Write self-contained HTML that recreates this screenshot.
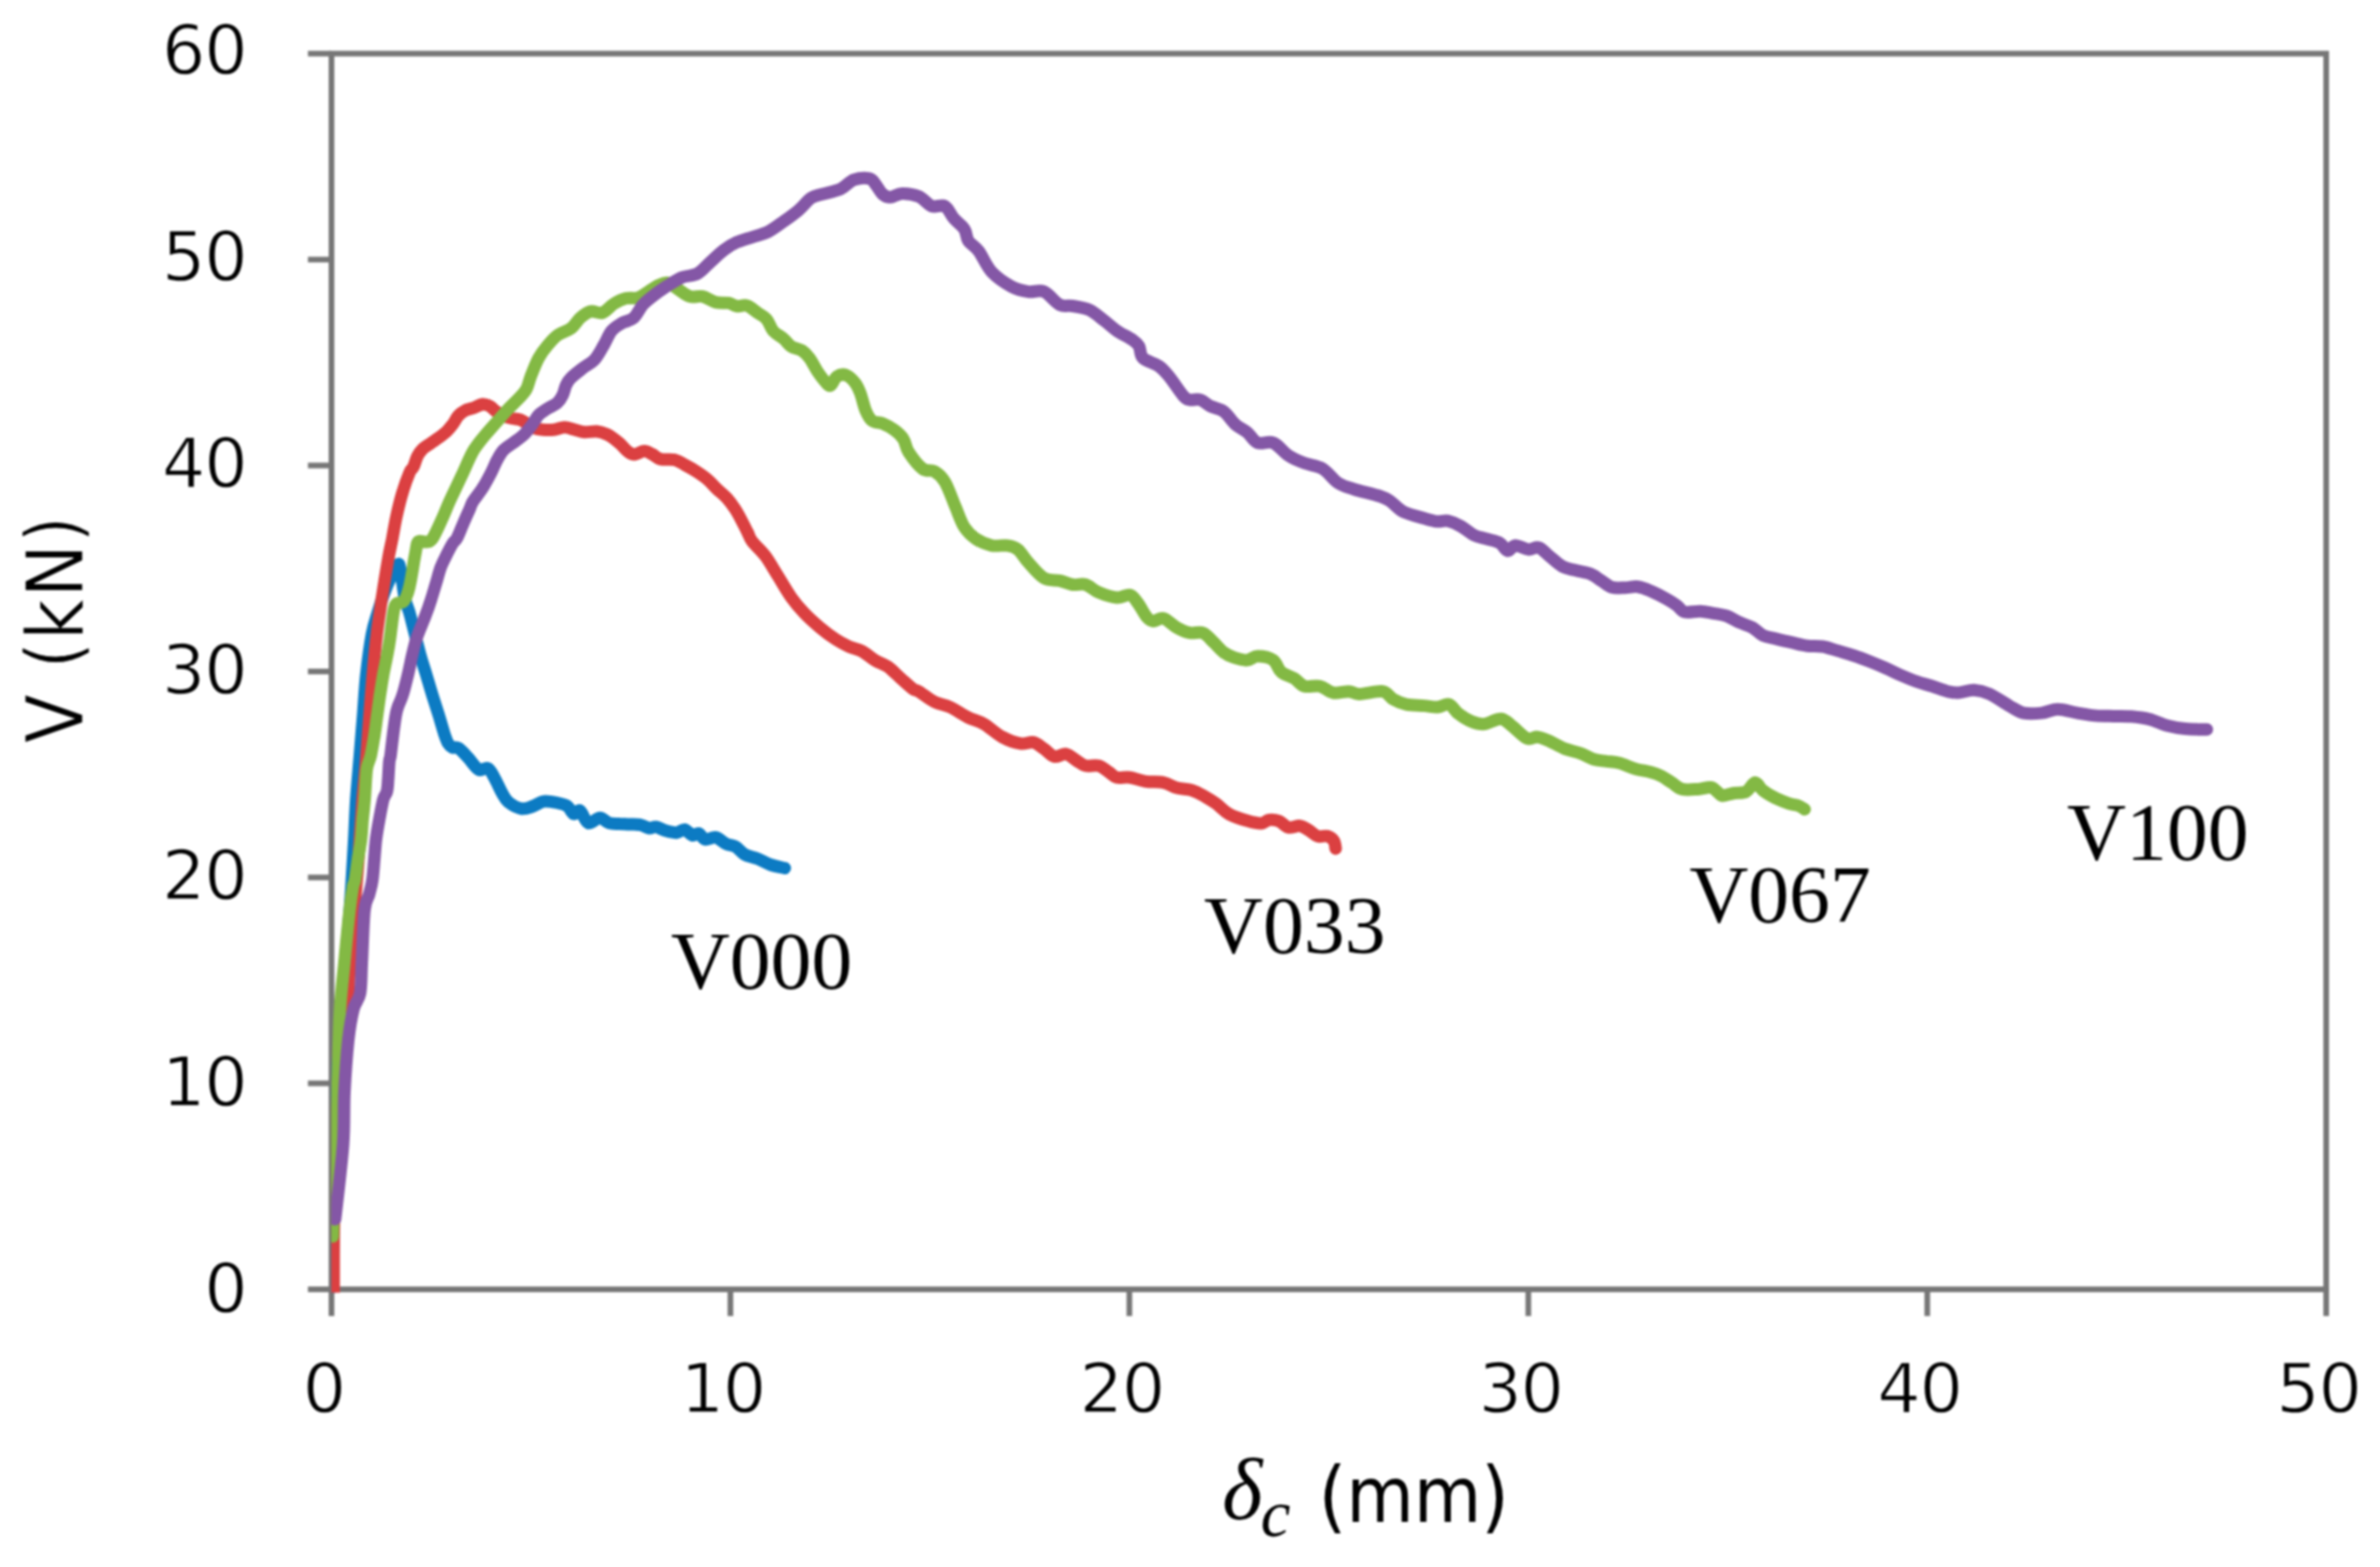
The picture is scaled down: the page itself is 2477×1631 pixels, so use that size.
<!DOCTYPE html>
<html lang="en">
<head>
<meta charset="utf-8">
<title>V versus delta_c chart</title>
<style>
html,body{margin:0;padding:0;background:#fff;}
#chart{width:2477px;height:1631px;overflow:hidden;position:relative;background:#fff;}
svg{position:absolute;left:0;top:0;display:block;filter:blur(0.8px);}
.tk{font-family:"DejaVu Sans","Liberation Sans",sans-serif;font-size:71.3px;letter-spacing:-1.4px;fill:#000;stroke:#fff;stroke-width:1.3px;}
.ttl{font-family:"DejaVu Sans Condensed","DejaVu Sans","Liberation Sans",sans-serif;font-size:82.7px;fill:#000;}
.ser{font-family:"Liberation Serif","DejaVu Serif",serif;font-size:85px;fill:#000;}
.mth{font-family:"Liberation Serif","DejaVu Serif",serif;font-style:italic;fill:#000;}
.ln{fill:none;stroke-linecap:round;stroke-linejoin:round;stroke-width:13.0;}
</style>
</head>
<body>
<div id="chart">
<svg width="2477" height="1631" viewBox="0 0 2477 1631" role="img" aria-label="Shear force V (kN) versus displacement for specimens V000, V033, V067 and V100">
<defs><clipPath id="plot"><rect x="344.7" y="40" width="2090" height="1305.4"/></clipPath></defs>
<rect x="0" y="0" width="2477" height="1631" fill="#ffffff"/>
<g stroke="#777777" stroke-width="5.9" fill="none" stroke-linecap="butt">
<rect x="345.0" y="55.8" width="2076.0" height="1286.2"/>
<line x1="320.5" y1="1342.0" x2="345.0" y2="1342.0"/>
<line x1="320.5" y1="1127.6" x2="345.0" y2="1127.6"/>
<line x1="320.5" y1="913.3" x2="345.0" y2="913.3"/>
<line x1="320.5" y1="698.9" x2="345.0" y2="698.9"/>
<line x1="320.5" y1="484.5" x2="345.0" y2="484.5"/>
<line x1="320.5" y1="270.2" x2="345.0" y2="270.2"/>
<line x1="320.5" y1="55.8" x2="345.0" y2="55.8"/>
<line x1="345.0" y1="1342.0" x2="345.0" y2="1369.8"/>
<line x1="760.2" y1="1342.0" x2="760.2" y2="1369.8"/>
<line x1="1175.4" y1="1342.0" x2="1175.4" y2="1369.8"/>
<line x1="1590.6" y1="1342.0" x2="1590.6" y2="1369.8"/>
<line x1="2005.8" y1="1342.0" x2="2005.8" y2="1369.8"/>
<line x1="2421.0" y1="1342.0" x2="2421.0" y2="1369.8"/>
</g>
<g clip-path="url(#plot)">
<path class="ln" stroke="#0c7bc3" d="M345.0 1341.0C345.2 1327.5 345.6 1293.5 346.5 1260.0C347.4 1226.5 348.9 1176.7 350.5 1140.0C352.1 1103.3 353.9 1070.0 356.0 1040.0C358.1 1010.0 361.3 980.6 363.0 960.0C364.7 939.4 365.1 930.7 366.1 916.4C367.0 902.1 367.8 888.3 368.6 874.2C369.4 860.2 369.7 846.8 370.7 832.1C371.7 817.5 373.3 801.0 374.5 786.4C375.7 771.7 376.7 758.3 377.9 744.2C379.0 730.2 379.7 716.2 381.2 702.1C382.8 688.1 385.1 670.9 387.1 660.0C389.2 649.1 391.3 644.0 393.4 636.9C395.5 629.8 397.7 623.3 399.8 617.5C401.9 611.7 404.0 606.7 406.1 602.3C408.2 598.0 410.9 593.9 412.4 591.4C413.9 588.9 414.5 585.9 415.3 587.2C416.2 588.4 416.9 594.9 417.6 599.0C418.3 603.0 418.9 607.4 419.6 611.6C420.2 615.8 420.6 620.0 421.7 624.2C422.7 628.5 424.6 632.7 425.9 636.9C427.1 641.1 427.4 642.2 429.2 649.5C431.1 656.9 434.9 672.3 437.2 681.1C439.6 689.8 441.5 695.1 443.6 702.1C445.7 709.1 447.7 716.2 449.9 723.2C452.1 730.2 454.4 737.2 456.6 744.2C458.8 751.3 461.3 760.4 462.9 765.3C464.6 770.2 465.1 771.6 466.3 773.7C467.6 775.8 468.7 777.1 470.5 777.9C472.4 778.8 474.5 777.0 477.3 778.8C480.1 780.6 483.8 785.1 487.3 788.8C490.8 792.6 494.8 799.2 498.2 801.0C501.5 802.9 504.9 798.3 507.6 799.7C510.4 801.0 511.9 804.9 514.4 809.2C516.9 813.5 520.1 821.2 522.6 825.5C525.0 829.8 526.0 832.2 529.3 835.0C532.7 837.7 538.6 841.1 542.9 841.7C547.2 842.4 551.3 840.3 555.1 839.0C559.0 837.8 561.9 834.7 566.0 834.1C570.0 833.6 575.5 834.7 579.5 835.5C583.6 836.3 587.4 837.1 590.4 839.0C593.3 841.0 594.9 846.3 597.1 847.2C599.4 848.0 601.4 842.3 603.9 843.9C606.4 845.5 608.7 855.4 612.1 856.6C615.5 857.9 620.7 851.2 624.3 851.2C627.9 851.2 630.4 855.6 633.8 856.6C637.2 857.7 641.0 857.2 644.6 857.5C648.2 857.7 651.8 857.8 655.5 858.0C659.1 858.2 662.9 857.9 666.3 858.5C669.7 859.2 673.1 861.7 675.8 862.1C678.5 862.4 679.6 860.3 682.6 860.7C685.5 861.2 689.8 863.8 693.4 864.8C697.0 865.8 701.1 866.9 704.3 866.7C707.4 866.5 709.7 863.0 712.4 863.4C715.1 863.9 718.1 868.7 720.6 869.4C723.0 870.1 725.1 866.8 727.3 867.5C729.6 868.2 731.2 873.1 734.1 873.7C737.1 874.4 741.3 870.8 745.0 871.6C748.6 872.3 752.4 876.8 755.8 878.3C759.2 879.9 762.1 879.3 765.3 881.1C768.5 882.9 771.0 887.1 774.8 889.2C778.6 891.3 783.8 892.0 788.4 893.8C792.9 895.6 797.2 898.4 801.9 900.0C806.7 901.7 814.3 903.0 816.8 903.6"/>
<path class="ln" stroke="#db4041" d="M347.3 1346.0C347.3 1336.7 347.2 1310.2 347.4 1290.0C347.6 1269.8 348.0 1245.8 348.4 1225.0C348.8 1204.2 349.1 1184.2 350.0 1165.0C350.9 1145.8 352.2 1126.2 353.5 1110.0C354.8 1093.8 356.6 1079.5 358.0 1068.0C359.4 1056.5 360.9 1052.5 362.0 1041.0C363.1 1029.5 362.8 1021.2 364.5 999.0C366.2 976.8 370.3 928.7 372.0 907.9C373.6 887.2 373.6 886.9 374.5 874.2C375.4 861.6 376.4 845.3 377.4 832.1C378.5 818.9 380.0 804.1 380.8 795.1C381.6 786.0 381.4 786.4 382.1 777.9C382.7 769.5 383.6 756.9 384.6 744.2C385.6 731.6 386.7 716.2 388.0 702.1C389.2 688.1 390.6 673.0 392.2 660.0C393.7 647.0 395.3 637.2 397.2 624.2C399.2 611.3 402.1 592.8 404.0 582.1C405.8 571.4 407.0 567.5 408.4 560.1C409.8 552.7 410.9 545.2 412.6 537.6C414.3 529.9 416.2 521.6 418.5 514.0C420.7 506.5 424.1 496.9 426.1 492.2C428.0 487.5 428.9 488.9 430.3 486.0C431.7 483.1 432.9 477.9 434.5 474.8C436.2 471.6 437.7 469.4 440.0 467.2C442.3 464.9 445.6 463.2 448.4 461.3C451.2 459.3 454.1 457.5 456.9 455.4C459.7 453.3 462.8 451.0 465.3 448.6C467.7 446.3 469.6 443.7 471.6 441.1C473.6 438.4 475.0 435.0 477.1 432.6C479.2 430.3 481.6 428.5 484.2 427.2C486.8 425.8 489.7 425.7 492.7 424.6C495.7 423.6 499.5 421.0 502.3 420.7C505.2 420.5 507.7 421.7 509.9 422.9C512.2 424.0 513.4 426.2 515.8 427.9C518.2 429.6 521.4 431.7 524.2 433.0C527.1 434.2 529.9 434.9 532.7 435.5C535.5 436.1 538.6 435.9 541.1 436.8C543.6 437.6 545.3 439.1 547.8 440.5C550.4 442.0 553.5 444.5 556.3 445.6C559.1 446.7 561.3 447.0 564.7 447.3C568.1 447.6 572.7 447.7 576.5 447.3C580.3 446.9 583.8 444.8 587.4 444.8C591.1 444.8 594.9 446.4 598.4 447.3C601.9 448.1 604.7 449.5 608.5 449.8C612.3 450.1 617.2 448.6 621.1 449.0C625.1 449.4 628.9 450.9 632.1 452.3C635.2 453.7 637.8 455.8 640.0 457.4C642.2 459.0 643.1 459.8 645.4 461.9C647.7 464.1 651.3 468.5 653.8 470.3C656.3 472.2 657.7 473.0 660.5 472.9C663.3 472.7 667.5 469.5 670.6 469.5C673.7 469.5 676.2 471.5 679.0 472.9C681.8 474.3 683.5 476.9 687.4 477.9C691.3 478.9 698.3 477.8 702.5 478.7C706.7 479.7 709.0 481.8 712.6 483.8C716.2 485.7 720.4 488.0 724.4 490.5C728.3 493.0 732.5 495.8 736.1 498.9C739.8 502.0 742.9 505.8 746.2 509.0C749.6 512.2 753.2 514.9 756.3 518.2C759.4 521.6 762.2 525.4 764.7 529.2C767.2 532.9 769.2 536.7 771.4 540.9C773.7 545.1 776.2 550.6 778.2 554.4C780.1 558.2 779.9 559.7 782.9 563.7C786.0 567.8 792.0 572.6 796.5 578.7C801.0 584.8 805.5 593.1 810.1 600.3C814.6 607.6 819.1 615.7 823.6 622.0C828.1 628.4 832.2 633.1 837.2 638.3C842.1 643.5 848.0 648.7 853.4 653.2C858.9 657.8 864.7 662.2 869.7 665.4C874.7 668.7 878.8 670.7 883.3 672.8C887.8 674.8 892.3 675.3 896.8 677.6C901.4 680.0 905.9 684.4 910.4 687.1C914.9 689.9 919.4 690.8 924.0 693.9C928.5 697.1 933.2 702.3 937.5 706.1C941.9 710.0 946.9 714.7 950.0 717.0C953.1 719.2 952.5 717.4 956.3 719.7C960.0 721.9 967.1 727.8 972.5 730.5C978.0 733.2 982.9 733.2 988.8 736.0C994.7 738.7 1001.9 743.9 1007.8 746.8C1013.7 749.7 1018.2 750.2 1024.1 753.6C1030.0 757.0 1036.7 763.8 1043.1 767.1C1049.4 770.5 1056.6 773.0 1062.0 773.9C1067.5 774.8 1071.5 771.7 1075.6 772.6C1079.7 773.5 1082.8 776.9 1086.5 779.4C1090.1 781.8 1093.5 786.6 1097.3 787.5C1101.1 788.4 1105.7 784.1 1109.5 784.8C1113.4 785.5 1117.0 789.5 1120.4 791.6C1123.7 793.6 1126.0 796.1 1129.9 797.0C1133.7 797.9 1139.3 795.9 1143.4 797.0C1147.5 798.1 1151.1 801.7 1154.3 803.8C1157.4 805.8 1158.8 808.3 1162.4 809.2C1166.0 810.1 1171.0 808.5 1176.0 809.2C1180.9 809.9 1186.4 812.4 1192.2 813.3C1198.1 814.2 1205.8 813.5 1211.2 814.6C1216.6 815.7 1219.8 818.7 1224.8 820.0C1229.7 821.4 1236.1 821.2 1241.0 822.7C1246.0 824.3 1250.5 827.3 1254.6 829.5C1258.7 831.8 1261.4 833.4 1265.5 836.3C1269.5 839.2 1273.4 844.1 1279.0 847.2C1284.6 850.2 1293.4 853.0 1299.0 854.6C1304.5 856.2 1308.8 857.1 1312.5 857.0C1316.1 856.8 1317.8 853.8 1320.9 853.4C1324.0 853.0 1327.6 853.3 1331.0 854.6C1334.4 855.9 1337.4 860.3 1341.1 861.2C1344.7 862.0 1349.4 859.1 1352.9 859.6C1356.4 860.1 1359.1 862.4 1362.2 864.2C1365.2 866.0 1368.2 869.4 1371.4 870.4C1374.7 871.4 1378.7 869.5 1381.5 870.3C1384.3 871.1 1386.8 873.1 1388.3 875.2C1389.7 877.4 1389.8 881.9 1390.1 883.2"/>
<path class="ln" stroke="#83b944" d="M346.3 1287.0C346.5 1280.0 346.7 1270.0 347.5 1245.0C348.3 1220.0 350.1 1168.5 351.2 1137.0C352.2 1105.4 352.4 1078.2 353.6 1055.6C354.8 1033.0 356.8 1019.4 358.5 1001.4C360.2 983.3 362.4 960.2 363.9 947.1C365.4 934.0 366.5 927.8 367.4 922.7C368.3 917.6 368.6 920.9 369.4 916.4C370.3 911.8 371.3 902.3 372.4 895.3C373.4 888.3 374.9 881.3 375.7 874.2C376.6 867.2 376.8 860.2 377.4 853.2C378.1 846.2 379.0 839.1 379.5 832.1C380.1 825.1 380.4 816.7 380.8 811.1C381.2 805.4 381.2 802.5 382.1 798.4C382.9 794.3 384.6 791.9 385.9 786.4C387.1 780.8 388.5 772.3 389.7 765.3C390.8 758.3 391.6 751.3 392.6 744.2C393.6 737.2 394.5 730.2 395.5 723.2C396.6 716.2 397.7 709.1 398.9 702.1C400.2 695.1 402.0 687.2 403.1 681.1C404.3 674.9 405.1 670.3 405.8 665.1C406.6 659.8 407.1 654.5 407.8 649.5C408.4 644.5 409.1 638.7 409.9 635.2C410.6 631.7 410.9 629.9 412.4 628.5C413.9 627.1 417.4 628.0 419.1 626.8C420.9 625.5 421.8 623.4 422.9 620.9C424.1 618.3 425.0 615.3 425.9 611.6C426.8 608.0 427.6 603.6 428.4 599.0C429.2 594.3 430.2 588.3 430.9 583.8C431.7 579.3 432.5 575.1 433.0 572.0C433.6 568.9 433.7 566.7 434.3 565.3C434.9 563.8 435.1 563.4 436.8 563.2C438.5 563.0 442.1 564.5 444.4 564.0C446.7 563.5 447.7 564.2 450.4 560.1C453.1 556.0 457.6 545.6 460.5 539.2C463.4 532.9 464.5 529.3 467.8 522.0C471.1 514.7 476.4 504.0 480.4 495.3C484.5 486.6 488.3 476.9 492.2 470.0C496.2 463.2 500.1 458.9 504.0 454.0C508.0 449.1 511.9 445.0 515.8 440.5C519.8 436.1 523.7 431.3 527.6 427.1C531.5 422.9 536.0 418.9 539.4 415.3C542.8 411.6 545.7 409.1 547.8 405.2C550.0 401.3 550.3 397.3 552.4 391.9C554.5 386.5 557.6 378.3 560.5 372.9C563.5 367.5 566.6 363.4 570.0 359.4C573.4 355.3 576.8 351.4 580.9 348.5C584.9 345.6 590.6 344.7 594.4 341.7C598.3 338.8 600.5 333.8 603.9 330.9C607.3 327.9 610.9 325.0 614.8 324.1C618.6 323.2 622.9 326.8 627.0 325.5C631.0 324.1 635.1 318.4 639.2 316.0C643.3 313.5 647.3 311.5 651.4 310.5C655.5 309.5 659.8 311.1 663.6 310.0C667.4 308.9 670.8 305.9 674.4 303.8C678.1 301.6 681.9 298.6 685.3 297.0C688.7 295.4 691.4 293.6 694.8 294.3C698.2 294.9 701.8 298.6 705.6 301.0C709.5 303.4 713.5 307.4 717.8 308.6C722.1 309.9 726.9 307.6 731.4 308.6C735.9 309.6 740.4 313.5 745.0 314.6C749.5 315.7 754.9 314.7 758.5 315.4C762.1 316.1 763.5 318.2 766.7 318.7C769.8 319.1 773.9 317.0 777.5 318.1C781.1 319.3 785.0 323.1 788.4 325.5C791.7 327.8 795.1 329.1 797.8 332.2C800.6 335.4 801.7 341.0 804.6 344.4C807.6 347.8 812.3 349.9 815.5 352.6C818.6 355.3 820.4 358.7 823.6 360.7C826.8 362.7 831.3 362.7 834.5 364.8C837.6 366.8 839.9 369.3 842.6 372.9C845.3 376.5 848.0 382.4 850.7 386.5C853.4 390.5 856.6 394.8 858.9 397.3C861.1 399.8 862.3 402.3 864.3 401.4C866.3 400.5 868.4 393.7 871.1 391.9C873.8 390.1 877.4 389.4 880.6 390.5C883.7 391.7 887.6 395.5 890.1 398.7C892.5 401.8 893.7 404.8 895.5 409.5C897.3 414.3 898.9 422.4 900.9 427.2C902.9 431.9 904.8 435.7 907.7 438.0C910.6 440.3 914.7 439.1 918.5 440.7C922.4 442.3 927.1 444.8 930.7 447.5C934.4 450.2 937.8 453.1 940.2 457.0C942.7 460.8 942.3 465.4 945.7 470.6C949.0 475.7 955.9 484.6 960.3 488.0C964.8 491.4 968.7 488.5 972.5 490.7C976.4 493.0 979.8 495.5 983.4 501.6C987.0 507.6 990.9 519.2 994.2 527.1C997.6 535.0 1000.1 543.2 1003.7 548.8C1007.4 554.5 1011.2 557.9 1015.9 561.0C1020.7 564.2 1026.8 566.7 1032.2 567.8C1037.6 568.9 1044.0 567.1 1048.5 567.8C1053.0 568.5 1055.7 568.9 1059.3 571.9C1063.0 574.8 1065.7 580.5 1070.2 585.4C1074.7 590.4 1081.0 598.5 1086.5 601.7C1091.9 604.9 1097.8 603.3 1102.7 604.4C1107.7 605.5 1111.8 607.8 1116.3 608.5C1120.8 609.2 1125.3 607.1 1129.9 608.5C1134.4 609.8 1138.0 614.4 1143.4 616.6C1148.8 618.9 1157.0 621.6 1162.4 622.0C1167.8 622.5 1172.3 618.4 1176.0 619.3C1179.6 620.2 1181.2 623.6 1184.1 627.5C1187.0 631.3 1190.9 639.2 1193.6 642.4C1196.3 645.6 1197.4 646.2 1200.4 646.5C1203.3 646.7 1207.1 642.6 1211.2 643.7C1215.3 644.9 1220.3 650.8 1224.8 653.2C1229.3 655.7 1233.8 657.8 1238.3 658.7C1242.9 659.6 1247.8 657.1 1251.9 658.7C1256.0 660.2 1259.1 664.8 1262.7 668.2C1266.4 671.5 1270.0 676.3 1273.6 679.0C1277.2 681.7 1280.4 683.1 1284.4 684.4C1288.5 685.8 1293.9 687.4 1298.0 687.1C1302.1 686.9 1304.3 683.1 1308.9 683.1C1313.4 683.1 1321.1 684.4 1325.1 687.1C1329.2 689.9 1329.6 696.2 1333.3 699.3C1336.9 702.5 1342.8 703.6 1346.8 706.1C1350.9 708.6 1353.2 712.9 1357.7 714.3C1362.2 715.6 1369.0 713.1 1373.9 714.3C1378.9 715.4 1382.5 720.1 1387.5 721.0C1392.5 721.9 1399.3 719.5 1403.8 719.7C1408.3 719.9 1408.8 722.4 1414.6 722.4C1420.5 722.4 1433.2 718.8 1439.0 719.7C1444.9 720.6 1445.8 725.6 1449.9 727.8C1454.0 730.1 1458.0 732.1 1463.4 733.2C1468.9 734.4 1477.0 734.1 1482.4 734.6C1487.9 735.1 1491.7 736.2 1496.0 736.0C1500.3 735.7 1504.6 732.1 1508.2 733.2C1511.8 734.4 1513.8 739.8 1517.7 742.7C1521.5 745.7 1526.7 749.1 1531.3 750.9C1535.8 752.7 1539.7 754.0 1544.8 753.6C1550.0 753.1 1557.3 747.7 1562.2 748.2C1567.1 748.6 1569.9 752.9 1574.4 756.3C1578.9 759.7 1585.0 766.7 1589.3 768.5C1593.6 770.3 1596.3 766.7 1600.2 767.1C1604.0 767.6 1607.6 769.2 1612.4 771.2C1617.1 773.3 1623.2 777.2 1628.7 779.4C1634.1 781.5 1640.0 782.4 1644.9 784.2C1649.9 786.0 1654.0 788.8 1658.5 790.2C1663.0 791.6 1667.5 791.7 1672.0 792.4C1676.6 793.0 1680.6 793.0 1685.6 794.3C1690.6 795.6 1696.5 798.7 1701.9 800.2C1707.3 801.8 1713.6 802.5 1718.2 803.8C1722.7 805.0 1725.4 806.0 1729.0 807.8C1732.6 809.6 1736.2 812.4 1739.9 814.6C1743.5 816.9 1746.2 820.3 1750.7 821.4C1755.2 822.5 1762.0 821.7 1767.0 821.4C1771.9 821.1 1777.1 819.0 1780.5 819.5C1783.9 819.9 1785.3 822.7 1787.3 824.1C1789.3 825.5 1789.8 827.9 1792.7 828.2C1795.7 828.4 1800.9 826.1 1804.9 825.5C1809.0 824.8 1813.5 825.9 1817.1 824.1C1820.8 822.3 1823.7 814.8 1826.6 814.6C1829.6 814.4 1831.2 820.0 1834.8 822.7C1838.4 825.5 1843.8 828.6 1848.3 830.9C1852.9 833.1 1858.1 835.0 1861.9 836.3C1865.7 837.6 1868.7 837.5 1871.4 838.5C1874.1 839.5 1877.0 841.6 1878.2 842.3"/>
<path class="ln" stroke="#8457a6" d="M348.8 1269.0C350.2 1256.0 355.5 1213.2 357.1 1191.2C358.7 1169.2 357.6 1155.1 358.5 1137.0C359.4 1118.9 361.0 1097.2 362.5 1082.7C364.1 1068.3 365.9 1058.3 368.0 1050.2C370.0 1042.0 373.3 1042.0 374.8 1033.9C376.2 1025.8 375.9 1015.8 376.6 1001.4C377.4 986.9 378.1 958.9 379.4 947.1C380.6 935.4 382.9 936.0 384.2 930.8C385.6 925.7 386.7 922.3 387.5 916.4C388.4 910.4 388.9 902.3 389.5 895.3C390.1 888.3 390.5 881.3 391.3 874.2C392.2 867.2 393.4 860.2 394.7 853.2C396.0 846.2 397.6 837.0 398.9 832.1C400.3 827.2 401.9 827.2 402.7 823.7C403.6 820.2 403.6 816.3 404.0 811.1C404.4 805.9 404.8 796.6 405.2 792.5C405.7 788.4 405.9 790.9 406.5 786.4C407.1 781.8 408.1 772.3 409.0 765.3C409.9 758.3 411.1 749.2 412.0 744.2C412.8 739.3 412.9 739.3 414.1 735.8C415.3 732.3 417.4 728.8 419.1 723.2C420.9 717.6 422.9 709.1 424.6 702.1C426.3 695.1 427.7 687.5 429.2 681.1C430.8 674.6 431.6 670.0 433.9 663.4C436.1 656.7 440.3 647.6 442.7 641.1C445.2 634.6 446.8 629.9 448.6 624.2C450.4 618.6 452.0 613.0 453.7 607.4C455.4 601.8 456.9 595.5 458.7 590.5C460.6 585.6 462.5 582.1 464.6 577.9C466.7 573.7 469.5 568.2 471.4 565.3C473.2 562.3 473.8 563.6 475.6 560.1C477.5 556.6 480.1 549.4 482.4 544.3C484.6 539.1 487.4 532.9 489.1 529.2C490.7 525.4 490.0 525.5 492.2 522.0C494.4 518.5 499.1 513.1 502.3 507.9C505.6 502.8 509.1 496.0 511.6 491.1C514.1 486.2 515.4 482.2 517.5 478.5C519.6 474.7 521.4 471.3 524.2 468.3C527.1 465.4 530.8 463.4 534.4 460.8C537.9 458.1 542.1 455.4 545.3 452.3C548.5 449.3 551.2 445.6 553.7 442.2C556.3 438.9 557.8 434.9 560.5 432.1C563.1 429.3 566.5 427.5 569.7 425.4C573.0 423.3 577.2 421.9 579.8 419.5C582.5 417.1 584.2 414.2 585.7 411.1C587.3 408.0 587.7 403.9 589.1 401.0C590.5 398.0 591.2 396.3 594.2 393.4C597.1 390.4 602.5 386.4 606.6 383.2C610.8 380.0 615.2 378.2 618.8 374.3C622.5 370.3 625.4 364.3 628.3 359.4C631.3 354.4 633.3 348.3 636.5 344.4C639.6 340.6 643.5 338.6 647.3 336.3C651.2 334.0 655.9 334.0 659.5 330.9C663.1 327.7 665.6 321.2 669.0 317.3C672.4 313.5 675.8 311.0 679.9 307.8C683.9 304.7 688.5 301.5 693.4 298.3C698.4 295.2 704.3 291.1 709.7 288.8C715.1 286.6 721.0 287.5 726.0 284.8C730.9 282.1 735.0 276.6 739.5 272.6C744.1 268.5 748.6 263.7 753.1 260.4C757.6 257.0 761.7 254.5 766.7 252.2C771.6 250.0 777.5 248.6 782.9 246.8C788.4 245.0 793.8 244.1 799.2 241.4C804.6 238.7 810.1 234.4 815.5 230.5C820.9 226.7 827.0 222.4 831.7 218.3C836.5 214.3 839.9 208.8 844.0 206.1C848.0 203.4 851.0 203.6 856.2 202.0C861.4 200.5 869.7 199.1 875.1 196.6C880.6 194.1 883.7 188.9 888.7 187.1C893.7 185.3 901.1 184.9 905.0 185.8C908.8 186.7 909.5 189.8 911.8 192.6C914.0 195.3 916.1 199.9 918.5 202.0C921.0 204.2 923.3 205.4 926.7 205.3C930.1 205.2 933.9 201.6 938.9 201.5C943.8 201.4 951.1 202.4 956.3 204.6C961.4 206.8 965.3 212.9 969.8 214.6C974.4 216.3 979.6 212.4 983.4 214.6C987.2 216.8 989.5 223.7 992.9 227.6C996.3 231.6 1001.2 234.6 1003.7 238.5C1006.2 242.3 1005.3 246.8 1007.8 250.7C1010.3 254.5 1014.6 256.1 1018.7 261.5C1022.7 267.0 1026.6 277.1 1032.2 283.2C1037.9 289.3 1046.2 294.8 1052.6 298.2C1058.9 301.5 1064.5 302.7 1070.2 303.6C1075.8 304.5 1081.0 301.3 1086.5 303.6C1091.9 305.8 1097.8 314.7 1102.7 317.1C1107.7 319.6 1111.1 317.6 1116.3 318.5C1121.5 319.4 1128.5 320.1 1133.9 322.6C1139.3 325.0 1144.1 329.8 1148.8 333.4C1153.6 337.0 1157.4 340.9 1162.4 344.3C1167.4 347.7 1174.8 351.0 1178.7 353.8C1182.5 356.5 1183.6 357.4 1185.5 360.5C1187.3 363.7 1186.1 369.3 1189.5 372.7C1192.9 376.1 1201.3 377.7 1205.8 380.9C1210.3 384.0 1212.3 386.5 1216.6 391.7C1220.9 396.9 1227.9 408.0 1231.6 412.1C1235.2 416.1 1235.4 415.5 1238.3 416.1C1241.3 416.8 1245.6 415.0 1249.2 416.1C1252.8 417.3 1256.0 420.9 1260.0 422.9C1264.1 424.9 1269.3 425.2 1273.6 428.3C1277.9 431.5 1281.7 438.3 1285.8 441.9C1289.9 445.5 1294.2 446.9 1298.0 450.0C1301.8 453.2 1304.3 459.1 1308.9 460.9C1313.4 462.7 1319.7 458.6 1325.1 460.9C1330.6 463.1 1336.0 470.9 1341.4 474.4C1346.8 478.0 1351.8 479.8 1357.7 482.0C1363.5 484.3 1370.8 484.5 1376.7 488.0C1382.5 491.5 1387.5 499.4 1392.9 502.9C1398.4 506.4 1402.0 506.9 1409.2 509.2C1416.4 511.4 1430.0 514.4 1436.3 516.5C1442.7 518.6 1443.1 519.2 1447.2 521.9C1451.2 524.6 1454.9 529.8 1460.7 532.8C1466.6 535.7 1476.6 537.9 1482.4 539.5C1488.3 541.2 1491.9 542.3 1496.0 542.8C1500.1 543.2 1502.8 541.4 1506.8 542.2C1510.9 543.1 1515.9 545.2 1520.4 547.7C1524.9 550.1 1529.4 554.7 1534.0 557.0C1538.5 559.2 1543.0 559.7 1547.5 561.0C1552.0 562.4 1557.3 563.1 1560.8 565.1C1564.4 567.1 1566.3 572.8 1569.0 573.2C1571.7 573.7 1573.5 568.0 1577.1 567.8C1580.7 567.6 1586.6 571.5 1590.7 571.9C1594.8 572.2 1597.9 568.8 1601.5 570.0C1605.1 571.1 1608.3 575.4 1612.4 578.7C1616.4 581.9 1621.4 587.0 1625.9 589.5C1630.5 592.0 1634.5 592.2 1639.5 593.6C1644.5 594.9 1651.3 595.8 1655.8 597.6C1660.3 599.4 1663.0 602.2 1666.6 604.4C1670.2 606.7 1673.4 610.0 1677.5 611.2C1681.5 612.4 1686.5 611.8 1691.0 611.7C1695.6 611.7 1700.1 610.1 1704.6 610.7C1709.1 611.2 1713.2 613.1 1718.2 615.3C1723.1 617.4 1729.9 620.9 1734.4 623.4C1738.9 625.9 1742.1 627.9 1745.3 630.2C1748.4 632.4 1749.3 636.0 1753.4 637.0C1757.5 638.0 1764.7 635.9 1769.7 636.2C1774.7 636.4 1778.7 637.5 1783.2 638.3C1787.8 639.1 1792.3 639.5 1796.8 641.0C1801.3 642.6 1805.8 645.8 1810.4 647.8C1814.9 649.8 1819.9 651.0 1823.9 653.2C1828.0 655.5 1830.7 659.4 1834.8 661.4C1838.8 663.3 1843.4 663.7 1848.3 664.9C1853.3 666.1 1859.2 667.5 1864.6 668.7C1870.0 669.9 1875.5 671.5 1880.9 672.2C1886.3 672.9 1891.7 672.1 1897.2 673.0C1902.6 673.9 1908.0 676.1 1913.4 677.6C1918.9 679.2 1924.3 680.7 1929.7 682.5C1935.1 684.3 1940.6 686.4 1946.0 688.5C1951.4 690.6 1956.8 692.9 1962.2 695.3C1967.7 697.7 1973.1 700.5 1978.5 702.9C1983.9 705.2 1989.4 707.5 1994.8 709.4C2000.2 711.3 2005.6 712.5 2011.1 714.3C2016.5 716.0 2022.8 718.6 2027.3 719.7C2031.9 720.8 2033.7 721.3 2038.2 721.0C2042.7 720.8 2049.0 718.1 2054.5 718.3C2059.9 718.6 2064.6 719.7 2070.7 722.4C2076.8 725.1 2085.2 731.3 2091.1 734.6C2097.0 737.9 2100.5 740.8 2106.1 742.1C2111.7 743.3 2118.9 742.7 2124.8 742.1C2130.7 741.5 2135.4 738.3 2141.6 738.3C2147.8 738.3 2155.6 741.0 2162.2 742.1C2168.7 743.2 2174.6 744.3 2180.9 744.9C2187.1 745.4 2193.3 745.3 2199.6 745.4C2205.8 745.6 2212.0 745.3 2218.3 745.8C2224.5 746.4 2230.7 747.1 2237.0 748.6C2243.2 750.2 2249.4 753.5 2255.6 755.2C2261.9 756.8 2267.5 757.9 2274.3 758.5C2281.2 759.2 2293.0 759.2 2296.8 759.3"/>
</g>
<text class="tk" text-anchor="end" x="256.4" y="1365.7">0</text>
<text class="tk" text-anchor="end" x="256.4" y="1151.0">10</text>
<text class="tk" text-anchor="end" x="256.4" y="936.2">20</text>
<text class="tk" text-anchor="end" x="256.4" y="721.5">30</text>
<text class="tk" text-anchor="end" x="256.4" y="506.7">40</text>
<text class="tk" text-anchor="end" x="256.4" y="292.0">50</text>
<text class="tk" text-anchor="end" x="256.4" y="77.2">60</text>
<text class="tk" text-anchor="middle" x="337.0" y="1470.4">0</text>
<text class="tk" text-anchor="middle" x="752.2" y="1470.4">10</text>
<text class="tk" text-anchor="middle" x="1167.4" y="1470.4">20</text>
<text class="tk" text-anchor="middle" x="1582.6" y="1470.4">30</text>
<text class="tk" text-anchor="middle" x="1997.8" y="1470.4">40</text>
<text class="tk" text-anchor="middle" x="2413.0" y="1470.4">50</text>
<text class="ser" x="698.2" y="1029.2">V000</text>
<text class="ser" x="1253.0" y="991.6">V033</text>
<text class="ser" x="1758.2" y="960.2">V067</text>
<text class="ser" x="2151.3" y="895.0">V100</text>
<text class="ttl" text-anchor="middle" letter-spacing="1.6" stroke="#fff" stroke-width="0.9" transform="translate(86.3,654.5) rotate(-90)">V <tspan font-size="78.5" dy="-3.2">(</tspan><tspan dy="3.2">kN</tspan><tspan font-size="78.5" dy="-3.2">)</tspan></text>
<text class="mth" font-size="90" x="1272" y="1581">δ</text>
<text class="mth" font-size="70" x="1312" y="1598.5">c</text>
<text class="ttl" style="font-size:80px" x="1372.3" y="1583.8"><tspan font-size="82.5" dy="1.3">(</tspan><tspan dy="-1.3">mm</tspan><tspan font-size="82.5" dy="1.3">)</tspan></text>
</svg>
</div>
</body>
</html>
